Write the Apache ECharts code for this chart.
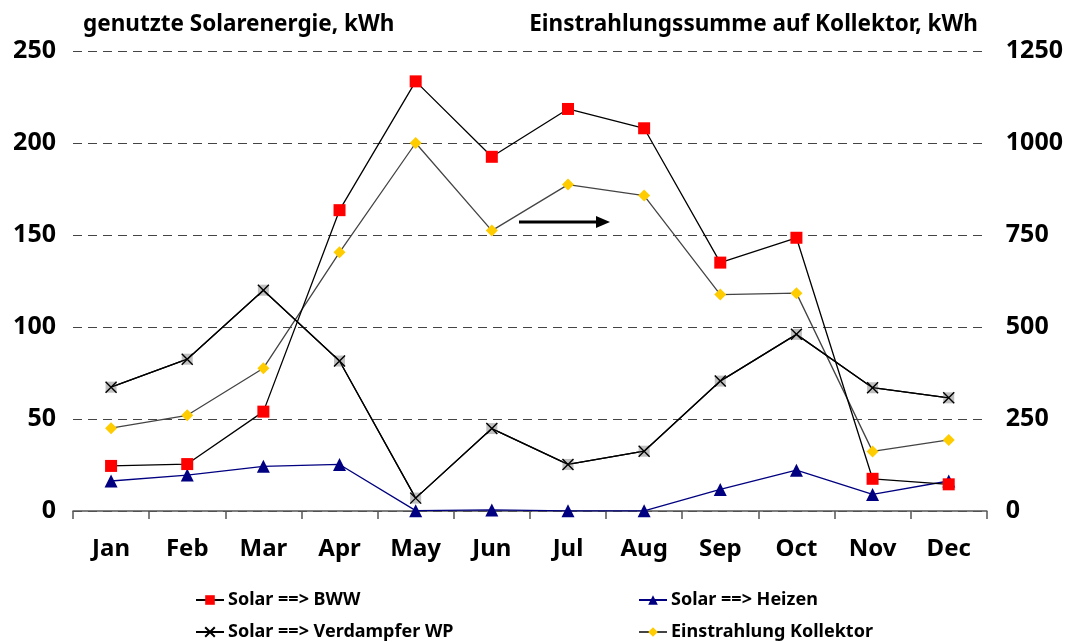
<!DOCTYPE html>
<html><head><meta charset="utf-8">
<script src="https://cdn.jsdelivr.net/npm/echarts@6/dist/echarts.min.js"></script>
<style>html,body{margin:0;padding:0;background:#fff}#c{width:1066px;height:642px}</style>
</head><body><div id="c"></div>
<script>
const months = ['Jan','Feb','Mar','Apr','May','Jun','Jul','Aug','Sep','Oct','Nov','Dec'];
const leftTicks = [0,50,100,150,200,250];
const rightTicks = [0,250,500,750,1000,1250];
const bww = [24.5,25.5,54,163.5,233.5,192.5,218.5,208,135,148.5,17.5,14.5];
const heizen = [16.3,19.5,24.3,25.3,0.2,0.6,0.1,0.1,11.7,22.2,9,16.3];
const verdampfer = [67.3,82.5,120,81.5,7,44.8,25.3,32.5,70.6,96,67,61.5];
const einstrahlung = [225,260,388,703,1000,762,887,857,588,592,162,193];

const FONT = '"Noto Sans", "DejaVu Sans", sans-serif';
const chart = echarts.init(document.getElementById('c'));
const xPath = 'path://M0,0L10,10M10,0L0,10';
function legendAt(name, left, top) {
  return { data:[name], left:left, top:top, itemWidth:28, itemHeight:12, itemGap:0,
    textStyle:{fontFamily:FONT, fontWeight:'bold', fontSize:18, color:'#000', padding:[0,0,0,-1]},
    selectedMode:false };
}
chart.setOption({
  animation:false,
  backgroundColor:'#fff',
  grid:{left:73, right:79, top:51, bottom:131},
  legend:[
    legendAt('Solar ==> BWW', 190, 586),
    legendAt('Solar ==> Heizen', 633, 586),
    legendAt('Solar ==> Verdampfer WP', 190, 618),
    legendAt('Einstrahlung Kollektor', 633, 618)
  ],
  xAxis:{type:'category', data:months, boundaryGap:true,
    axisLine:{lineStyle:{color:'#555', width:1.5}},
    axisTick:{show:true, length:8, inside:false, lineStyle:{color:'#555', width:1.5}},
    axisLabel:{fontFamily:FONT, fontWeight:'bold', fontSize:24, color:'#000', margin:26}},
  yAxis:[
    {type:'value', min:0, max:250, interval:50, name:'genutzte Solarenergie, kWh',
     nameLocation:'end', nameGap:15,
     nameTextStyle:{fontFamily:FONT, fontWeight:'bold', fontSize:22.5, color:'#000', align:'left', padding:[0,0,0,10]},
     axisLine:{show:false}, axisTick:{show:false},
     axisLabel:{fontFamily:FONT, fontWeight:'bold', fontSize:25, color:'#000', margin:17,
       formatter:v=>leftTicks.includes(v)?String(v):''},
     splitLine:{show:true, lineStyle:{color:'#444', type:[9,6], width:1}}},
    {type:'value', min:0, max:1250, interval:250, name:'Einstrahlungssumme auf Kollektor, kWh',
     nameLocation:'end', nameGap:15,
     nameTextStyle:{fontFamily:FONT, fontWeight:'bold', fontSize:22.5, color:'#000', align:'right', padding:[0,9,0,0]},
     axisLine:{show:false}, axisTick:{show:false},
     axisLabel:{fontFamily:FONT, fontWeight:'bold', fontSize:25, color:'#000', margin:19,
       formatter:v=>rightTicks.includes(v)?String(v):''},
     splitLine:{show:false}}
  ],
  series:[
    {name:'Solar ==> Verdampfer WP', type:'line', data:verdampfer,
     symbol:xPath, symbolSize:11, lineStyle:{color:'#000', width:1.3},
     itemStyle:{color:'none', borderColor:'#000', borderWidth:1.4}, z:4},
    {name:'Einstrahlung Kollektor', type:'line', yAxisIndex:1, data:einstrahlung,
     symbol:'diamond', symbolSize:12, lineStyle:{color:'#444', width:1.3},
     itemStyle:{color:'#FFCC00'}, z:2},
    {name:'Solar ==> Verdampfer WP', type:'line', data:verdampfer,
     symbol:'rect', symbolSize:11, lineStyle:{color:'#000', width:1.3},
     itemStyle:{color:'#c0c0c0'}, z:3},
    {name:'Solar ==> Heizen', type:'line', data:heizen,
     symbol:'triangle', symbolSize:13, lineStyle:{color:'#000080', width:1.3},
     itemStyle:{color:'#000080'}, z:5},
    {name:'Solar ==> BWW', type:'line', data:bww,
     symbol:'rect', symbolSize:12, lineStyle:{color:'#000', width:1.3},
     itemStyle:{color:'#FF0000'}, z:6}
  ],
  graphic:[
    {type:'line', shape:{x1:519, y1:222, x2:600, y2:222}, style:{stroke:'#000', lineWidth:3}},
    {type:'polygon', shape:{points:[[596,216],[610,222],[596,228]]}, style:{fill:'#000'}}
  ]
});
</script></body></html>
